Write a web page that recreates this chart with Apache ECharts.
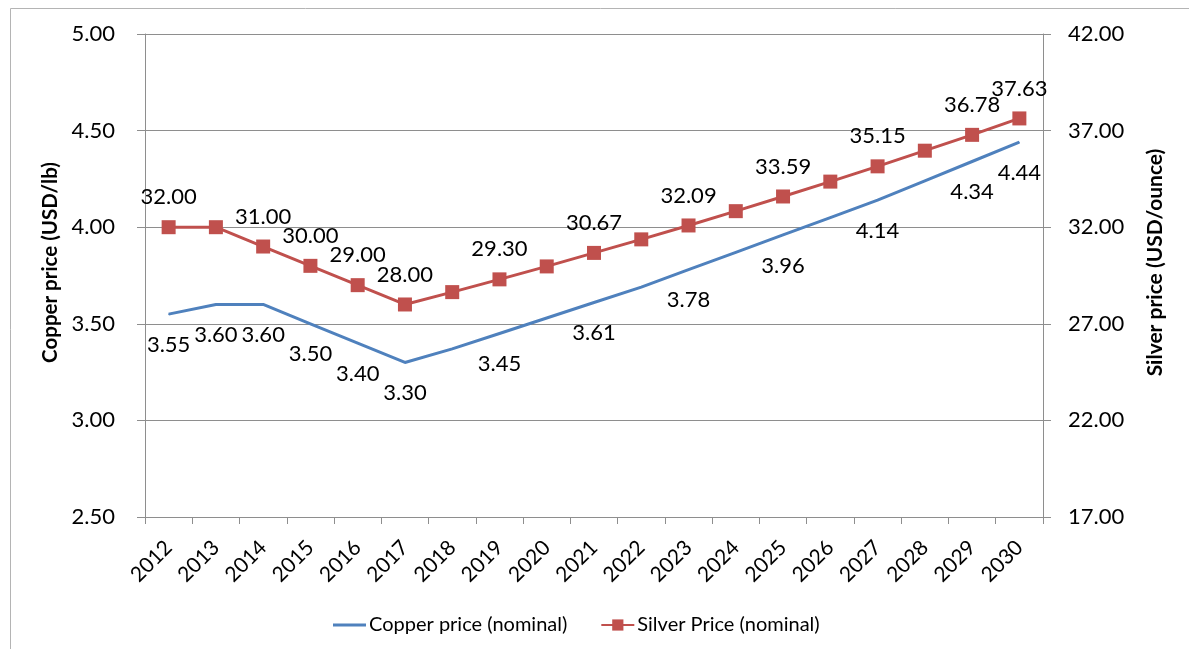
<!DOCTYPE html>
<html>
<head>
<meta charset="utf-8">
<script src="https://cdn.jsdelivr.net/npm/echarts@6/dist/echarts.min.js"></script>
<style>
  html, body { margin: 0; padding: 0; background: #fff; }
  #chart { width: 1189px; height: 649px; }
</style>
</head>
<body>
<div id="chart"></div>
<script>
// Years on the category axis
const years = ['2012','2013','2014','2015','2016','2017','2018','2019','2020','2021',
               '2022','2023','2024','2025','2026','2027','2028','2029','2030'];

// Copper price, USD/lb (left axis)
const copperPrice = [3.55, 3.60, 3.60, 3.50, 3.40, 3.30, 3.37, 3.45, 3.53, 3.61,
                     3.69, 3.78, 3.87, 3.96, 4.05, 4.14, 4.24, 4.34, 4.44];

// Silver price, USD/ounce (right axis)
const silverPrice = [32.00, 32.00, 31.00, 30.00, 29.00, 28.00, 28.64, 29.30, 29.97, 30.67,
                     31.37, 32.09, 32.83, 33.59, 34.36, 35.15, 35.96, 36.78, 37.63];

// Years whose value is printed next to the point
const copperLabelled = ['2012','2013','2014','2015','2016','2017','2019','2021','2023','2025','2027','2029','2030'];
const silverLabelled = ['2012','2014','2015','2016','2017','2019','2021','2023','2025','2027','2029','2030'];

// Axis ranges
const copperAxis = { min: 2.5, max: 5.0, step: 0.5 };
const silverAxis = { min: 17, max: 42, step: 5 };

const FONT = 'Lato';
const GRID_GREY = '#8e8e8e';
const COPPER = '#4f81bd';
const SILVER = '#c0504d';

function withLabels(values, labelled) {
  return values.map((v, i) => ({
    value: v,
    label: { show: labelled.includes(years[i]) }
  }));
}

const chart = echarts.init(document.getElementById('chart'), null, { renderer: 'canvas' });

chart.setOption({
  backgroundColor: '#ffffff',
  animation: false,
  textStyle: { fontFamily: FONT, color: '#000' },
  graphic: [{
    type: 'rect',
    shape: { x: 10.5, y: 8.5, width: 1300, height: 800 },
    style: { fill: 'none', stroke: '#b4b4b4', lineWidth: 1 },
    silent: true,
    z: -10
  }],
  grid: { left: 145, right: 146, top: 34, bottom: 132 },
  legend: {
    left: 333,
    top: 615,
    padding: 0,
    itemWidth: 33,
    itemHeight: 14,
    itemGap: 33,
    textStyle: { fontFamily: FONT, fontSize: 20, color: '#000', padding: [0, 0, 0, -2] },
    data: [
      // plain line swatch: the copper series has no point markers
      { name: 'Copper price (nominal)', icon: 'path://M0,0H34V3H0Z', itemStyle: { color: COPPER } },
      { name: 'Silver Price (nominal)' }
    ]
  },
  xAxis: {
    type: 'category',
    data: years,
    boundaryGap: true,
    axisLine: { lineStyle: { color: GRID_GREY, width: 1 } },
    axisTick: { show: true, alignWithLabel: false, length: 7, lineStyle: { color: GRID_GREY } },
    axisLabel: { rotate: 45, margin: 27, fontSize: 21, color: '#000', fontFamily: FONT, interval: 0 }
  },
  yAxis: [{
    type: 'value',
    min: copperAxis.min,
    max: copperAxis.max,
    interval: copperAxis.step,
    name: 'Copper price (USD/lb)',
    nameLocation: 'middle',
    nameGap: 83,
    nameTextStyle: { fontFamily: FONT, fontSize: 20.5, fontWeight: 'bold', color: '#000', padding: [0, 0, 0, 26] },
    axisLine: { show: true, lineStyle: { color: GRID_GREY, width: 1 } },
    axisTick: { show: true, length: 8, lineStyle: { color: GRID_GREY } },
    axisLabel: { margin: 30, fontSize: 22, color: '#000', fontFamily: FONT, formatter: v => v.toFixed(2) },
    splitLine: { show: true, lineStyle: { color: GRID_GREY, width: 1 } }
  }, {
    type: 'value',
    position: 'right',
    min: silverAxis.min,
    max: silverAxis.max,
    interval: silverAxis.step,
    name: 'Silver price (USD/ounce)',
    nameLocation: 'middle',
    nameGap: 102,
    nameTextStyle: { fontFamily: FONT, fontSize: 21, fontWeight: 'bold', color: '#000', padding: [0, 0, 0, 26] },
    axisLine: { show: true, lineStyle: { color: GRID_GREY, width: 1 } },
    axisTick: { show: true, length: 8, lineStyle: { color: GRID_GREY } },
    axisLabel: { margin: 25, fontSize: 22, color: '#000', fontFamily: FONT, formatter: v => v.toFixed(2) },
    splitLine: { show: false }
  }],
  series: [{
    name: 'Copper price (nominal)',
    type: 'line',
    yAxisIndex: 0,
    data: withLabels(copperPrice, copperLabelled),
    symbol: 'circle',
    symbolSize: 1,
    showSymbol: true,
    lineStyle: { color: COPPER, width: 3 },
    itemStyle: { color: COPPER },
    label: {
      position: 'bottom',
      distance: 19,
      fontSize: 22,
      fontFamily: FONT,
      color: '#000',
      formatter: p => p.value.toFixed(2)
    },
    z: 2
  }, {
    name: 'Silver Price (nominal)',
    type: 'line',
    yAxisIndex: 1,
    data: withLabels(silverPrice, silverLabelled),
    symbol: 'rect',
    symbolSize: 14,
    lineStyle: { color: SILVER, width: 3 },
    itemStyle: { color: SILVER },
    label: {
      position: 'top',
      distance: 12,
      fontSize: 22,
      fontFamily: FONT,
      color: '#000',
      formatter: p => p.value.toFixed(2)
    },
    z: 3
  }]
});
</script>
</body>
</html>
